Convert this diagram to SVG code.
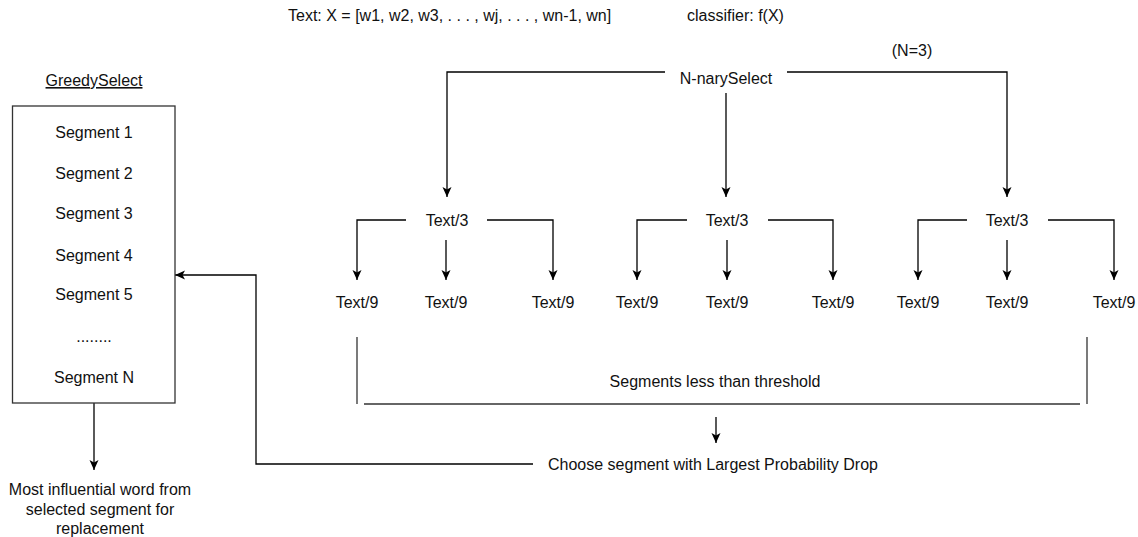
<svg xmlns="http://www.w3.org/2000/svg" width="1138" height="537" viewBox="0 0 1138 537">
<defs>
<marker id="arr" viewBox="0 0 10 10" refX="10" refY="5" markerWidth="10" markerHeight="10" markerUnits="userSpaceOnUse" orient="auto">
<path d="M0,0.5 L10,5 L0,9.5 L2.5,5 z" fill="#000"/>
</marker>
</defs>
<style>
text{font-family:"Liberation Sans",Arial,Helvetica,sans-serif;font-size:16px;fill:#111;}
.c{text-anchor:middle;}
.ln{fill:none;stroke:#333;stroke-width:1.3;}
.ar{fill:none;stroke:#000;stroke-width:1.3;marker-end:url(#arr);}
.box{fill:#fff;stroke:#333;stroke-width:1.3;}
</style>
<rect width="1138" height="537" fill="#fff"/>
<g id="header">
<text x="288" y="21">Text: X = [w1, w2, w3, . . . , wj, . . . , wn-1, wn]</text>
<text x="687" y="21">classifier: f(X)</text>
<text class="c" x="912" y="56">(N=3)</text>
</g>
<g id="connectors">
<path class="ar" d="M665,72 H447 V197"/>
<path class="ar" d="M726,93 V197"/>
<path class="ar" d="M787,72 H1007 V197"/>
<path class="ar" d="M406,220 H357 V280"/>
<path class="ar" d="M446,240 V280"/>
<path class="ar" d="M487,220 H553 V280"/>
<path class="ar" d="M687,220 H637 V280"/>
<path class="ar" d="M727,240 V280"/>
<path class="ar" d="M768,220 H833 V280"/>
<path class="ar" d="M967,220 H918 V280"/>
<path class="ar" d="M1007,240 V280"/>
<path class="ar" d="M1048,220 H1114 V280"/>
<path class="ln" d="M357,337 V404"/>
<path class="ln" d="M364,404 H1080"/>
<path class="ln" d="M1087,337 V404"/>
<path class="ar" d="M716,417 V443"/>
<path class="ar" d="M533,464 H256 V275 H175"/>
<path class="ar" d="M94,403 V470"/>
</g>
<g id="nnary"><text class="c" x="726" y="84">N-narySelect</text></g>
<g id="t3a"><text class="c" x="447" y="226">Text/3</text></g>
<g id="t3b"><text class="c" x="727" y="226">Text/3</text></g>
<g id="t3c"><text class="c" x="1007" y="226">Text/3</text></g>
<g id="t9-1"><text class="c" x="357" y="308">Text/9</text></g>
<g id="t9-2"><text class="c" x="446" y="308">Text/9</text></g>
<g id="t9-3"><text class="c" x="553" y="308">Text/9</text></g>
<g id="t9-4"><text class="c" x="637" y="308">Text/9</text></g>
<g id="t9-5"><text class="c" x="727" y="308">Text/9</text></g>
<g id="t9-6"><text class="c" x="833" y="308">Text/9</text></g>
<g id="t9-7"><text class="c" x="918" y="308">Text/9</text></g>
<g id="t9-8"><text class="c" x="1007" y="308">Text/9</text></g>
<g id="t9-9"><text class="c" x="1114" y="308">Text/9</text></g>
<g id="threshold"><text class="c" x="715" y="387">Segments less than threshold</text></g>
<g id="choose"><text x="548" y="470">Choose segment with Largest Probability Drop</text></g>
<g id="greedy">
<text class="c" x="94" y="86" text-decoration="underline">GreedySelect</text>
<rect class="box" x="12.5" y="106" width="162.5" height="297"/>
<text class="c" x="94" y="138">Segment 1</text>
<text class="c" x="94" y="179">Segment 2</text>
<text class="c" x="94" y="219">Segment 3</text>
<text class="c" x="94" y="261">Segment 4</text>
<text class="c" x="94" y="300">Segment 5</text>
<text class="c" x="94" y="342">........</text>
<text class="c" x="94" y="383">Segment N</text>
</g>
<g id="result">
<text class="c" x="100" y="495">Most influential word from</text>
<text class="c" x="100" y="515">selected segment for</text>
<text class="c" x="100" y="534">replacement</text>
</g>
</svg>
